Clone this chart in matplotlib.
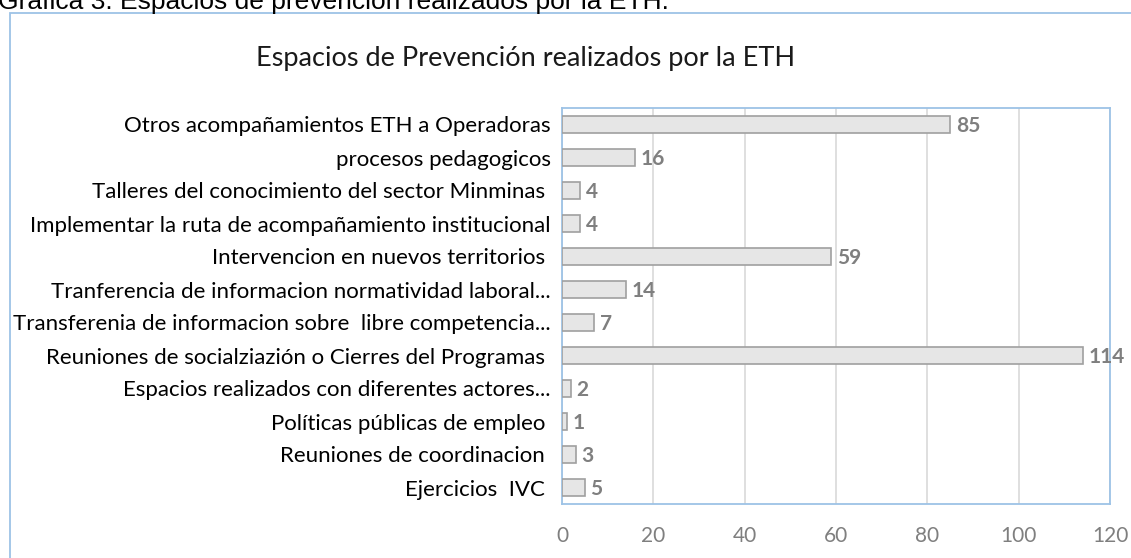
import matplotlib
matplotlib.use("Agg")
import matplotlib.pyplot as plt
from matplotlib.patches import Rectangle

categories = [
    "Otros acompañamientos ETH a Operadoras",
    "procesos pedagogicos",
    "Talleres del conocimiento del sector Minminas ",
    "Implementar la ruta de acompañamiento institucional",
    "Intervencion en nuevos territorios ",
    "Tranferencia de informacion normatividad laboral...",
    "Transferenia de informacion sobre  libre competencia...",
    "Reuniones de socialziazión o Cierres del Programas ",
    "Espacios realizados con diferentes actores...",
    "Políticas públicas de empleo ",
    "Reuniones de coordinacion ",
    "Ejercicios  IVC ",
]
values = [85, 16, 4, 4, 59, 14, 7, 114, 2, 1, 3, 5]
xticks = [0, 20, 40, 60, 80, 100, 120]

title = "Espacios de Prevención realizados por la ETH"
caption = "Gráfica 3: Espacios de prevención realizados por la ETH."

W, H = 1131, 558
fig = plt.figure(figsize=(W / 100, H / 100), dpi=100)

# outer chart frame (right and bottom run off the picture)
fig.patches.append(Rectangle((10 / W, -0.1), 1.2, 1.1 - 13 / H,
                             transform=fig.transFigure, fill=False,
                             edgecolor="#9DC3E6", linewidth=1.3))

# caption is cut at the top edge in the reference too
fig.text(-2 / W, 1 - 9 / H, caption, fontsize=19, family="Liberation Sans",
         va="baseline", ha="left", color="black")
fig.text(526 / W, 1 - 66 / H, title, fontsize=19.5, family="Lato",
         va="baseline", ha="center", color="#1a1a1a")

ax = fig.add_axes([562 / W, 1 - 504 / H, 548 / W, 396 / H])
ypos = list(range(len(categories)))
ax.barh(ypos, values, height=0.5, color="#E6E6E6", edgecolor="#A0A0A0",
        linewidth=1.2, zorder=3)

for y, v in zip(ypos, values):
    ax.annotate(str(v), (v, y), xytext=(4, -1), textcoords="offset points",
                ha="left", va="center", fontsize=15, fontweight="bold",
                color="#7F7F7F", family="Lato", zorder=4)

ax.set_xlim(0, 120)
ax.set_ylim(len(categories) - 0.5, -0.5)
ax.set_xticks(xticks)
ax.set_xticklabels([str(t) for t in xticks], family="Lato", fontsize=15,
                   color="#7F7F7F")
ax.set_yticks(ypos)
ax.set_yticklabels(categories, family="Lato", fontsize=16, color="black")
ax.tick_params(axis="x", length=0, pad=16)
ax.tick_params(axis="y", length=0, pad=8)
ax.grid(axis="x", color="#D9D9D9", linewidth=1.2, zorder=0)
for s in ax.spines.values():
    s.set_color("#9DC3E6")
    s.set_linewidth(1.3)

fig.savefig("out.png", dpi=100)
